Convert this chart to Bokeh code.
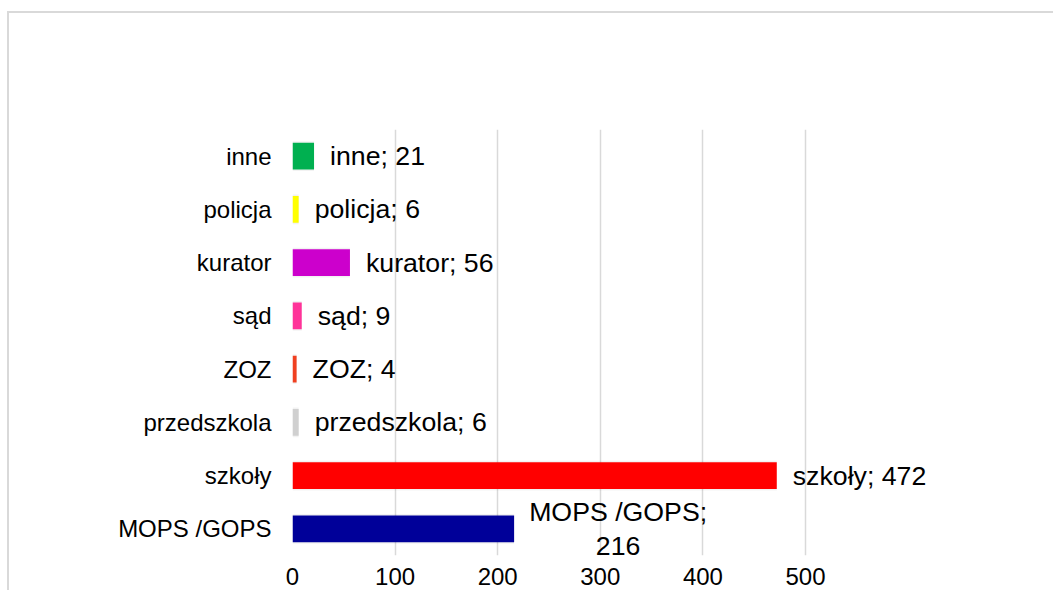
from bokeh.plotting import figure
from bokeh.models import FactorRange, FixedTicker, ColumnDataSource
from bokeh.core.properties import value
from bokeh.embed import file_html
from bokeh.resources import INLINE

# data (bottom to top)
categories = ["MOPS /GOPS", "szkoły", "przedszkola", "ZOZ", "sąd", "kurator", "policja", "inne"]
values = [216, 472, 6, 4, 9, 56, 6, 21]
colors = ["#000099", "#FF0000", "#D0D0D0", "#F04020", "#FF3399", "#CC00CC", "#FFFF00", "#00B050"]
x_ticks = [0, 100, 200, 300, 400, 500]

labels = [f"{c}; {v}" for c, v in zip(categories, values)]

FONT = "Liberation Sans"

W = 1046
FRAME_W = 739
X_END = 500 * FRAME_W / 513.0

p = figure(
    width=W, height=579,
    y_range=FactorRange(factors=categories),
    x_range=(0, X_END),
    output_backend="svg", toolbar_location=None,
    min_border_left=283, min_border_right=W - 283 - FRAME_W,
    min_border_top=116, min_border_bottom=37,
)
p.styles = {
    "margin-top": "11px",
    "margin-left": "7px",
    "border-top": "2px solid #d9d9d9",
    "border-left": "2px solid #d9d9d9",
}
p.outline_line_color = None
p.background_fill_color = "white"
p.border_fill_color = "white"

src = ColumnDataSource(dict(cat=categories, val=values, color=colors, label=labels))

# soft shadow
p.hbar(y="cat", right="val", left=0, height=0.56, source=src,
       fill_color="#000000", fill_alpha=0.05, line_color=None)
p.hbar(y="cat", right="val", left=0, height=0.5, source=src,
       fill_color="color", line_color=None)

single = ColumnDataSource(dict(
    cat=categories[1:], val=values[1:], label=labels[1:]))
p.text(x="val", y="cat", text="label", source=single,
       x_offset=16, text_align="left", text_baseline="middle",
       text_font=value(FONT), text_font_size="26.7px", text_color="#000000")

wrapped = ColumnDataSource(dict(
    cat=categories[:1], val=values[:1],
    label=[labels[0].replace("; ", ";\n")]))
p.text(x="val", y="cat", text="label", source=wrapped,
       x_offset=104, text_align="center", text_baseline="middle",
       text_line_height=1.15,
       text_font=value(FONT), text_font_size="26.7px", text_color="#000000")

# axes
p.xaxis.ticker = FixedTicker(ticks=x_ticks)
p.xaxis.axis_line_color = None
p.xaxis.major_tick_line_color = None
p.xaxis.minor_tick_line_color = None
p.xaxis.major_label_standoff = 6
p.xaxis.major_label_text_font = FONT
p.xaxis.major_label_text_font_size = "24px"
p.xaxis.major_label_text_color = "#000000"

p.yaxis.axis_line_color = None
p.yaxis.major_tick_line_color = None
p.yaxis.minor_tick_line_color = None
p.yaxis.major_label_standoff = 15
p.yaxis.major_label_text_font = FONT
p.yaxis.major_label_text_font_size = "24px"
p.yaxis.major_label_text_color = "#000000"

p.xgrid.grid_line_color = "#d9d9d9"
p.xgrid.grid_line_width = 1.5
p.ygrid.grid_line_color = None

open("out.html", "w").write(file_html(p, INLINE))
